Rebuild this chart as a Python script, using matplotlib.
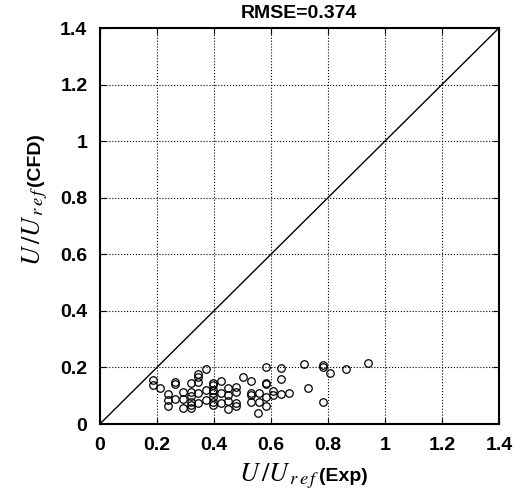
import matplotlib
matplotlib.use('Agg')
import matplotlib.pyplot as plt

x_exp = [0.185, 0.185, 0.211, 0.240, 0.240, 0.240, 0.264, 0.264, 0.264,
         0.292, 0.292, 0.292, 0.318, 0.318, 0.318, 0.318, 0.318, 0.318,
         0.345, 0.345, 0.345, 0.345, 0.345, 0.372, 0.372, 0.372,
         0.398, 0.398, 0.398, 0.398, 0.398, 0.398, 0.398,
         0.425, 0.425, 0.425, 0.450, 0.450, 0.450, 0.450,
         0.477, 0.477, 0.477, 0.477, 0.503, 0.530, 0.530, 0.530, 0.530,
         0.558, 0.558, 0.555, 0.582, 0.582, 0.582, 0.582, 0.582,
         0.608, 0.608, 0.635, 0.635, 0.635, 0.662, 0.717, 0.729,
         0.781, 0.781, 0.781, 0.809, 0.862, 0.941]
y_cfd = [0.155, 0.138, 0.128, 0.105, 0.085, 0.064, 0.149, 0.140, 0.088,
         0.112, 0.088, 0.055, 0.144, 0.114, 0.099, 0.079, 0.067, 0.058,
         0.176, 0.167, 0.149, 0.108, 0.073, 0.193, 0.120, 0.085,
         0.146, 0.138, 0.120, 0.108, 0.096, 0.079, 0.067,
         0.153, 0.108, 0.075, 0.126, 0.102, 0.081, 0.052,
         0.132, 0.114, 0.073, 0.064, 0.167, 0.153, 0.111, 0.102, 0.079,
         0.108, 0.079, 0.040, 0.200, 0.146, 0.141, 0.097, 0.062,
         0.117, 0.102, 0.197, 0.158, 0.105, 0.111, 0.211, 0.128,
         0.207, 0.200, 0.077, 0.179, 0.195, 0.214]
rmse = 0.374
ticks = [0, 0.2, 0.4, 0.6, 0.8, 1, 1.2, 1.4]
tick_labels = ['0', '0.2', '0.4', '0.6', '0.8', '1', '1.2', '1.4']

plt.rcParams['font.family'] = ['Liberation Sans', 'DejaVu Sans']
plt.rcParams['mathtext.fontset'] = 'stix'

W, H = 523, 494
fig = plt.figure(figsize=(W / 100, H / 100), dpi=100)
ax = fig.add_axes([0.191, 0.1417, 0.763, 0.8016])

ax.plot([0, 1.4], [0, 1.4], color='black', lw=1.0)
ax.plot(x_exp, y_cfd, 'o', mfc='none', mec='black', ms=5.4, mew=0.9)

ax.set_xlim(0, 1.4)
ax.set_ylim(0, 1.4)
ax.set_xticks(ticks)
ax.set_yticks(ticks)
ax.set_xticklabels(tick_labels, fontsize=14, fontweight='bold')
ax.set_yticklabels(tick_labels, fontsize=14, fontweight='bold')
ax.tick_params(direction='in', length=4, width=0.8, top=True, right=True, pad=9)
ax.grid(True, color='black', linestyle=':', linewidth=0.8)
for s in ax.spines.values():
    s.set_linewidth(1.5)

# axis labels: italic math part + bold plain part, joined at one point
mlab = r'$U\,/U_{\,r\,e\,f}$'
fig.text(319 / W, 13 / H, mlab, fontsize=19, ha='right', va='baseline')
fig.text(319 / W, 13 / H, '(Exp)', fontsize=14, fontweight='bold', ha='left', va='baseline')
fig.text(40 / W, 1 - 186 / H, mlab, fontsize=19, ha='right', va='baseline',
         rotation=90, rotation_mode='anchor')
fig.text(40 / W, 1 - 186 / H, '(CFD)', fontsize=14, fontweight='bold', ha='left', va='baseline',
         rotation=90, rotation_mode='anchor')

ax.set_title('RMSE={:.3f}'.format(rmse), fontsize=14, fontweight='bold', pad=7)

fig.savefig('out.png', dpi=100)
